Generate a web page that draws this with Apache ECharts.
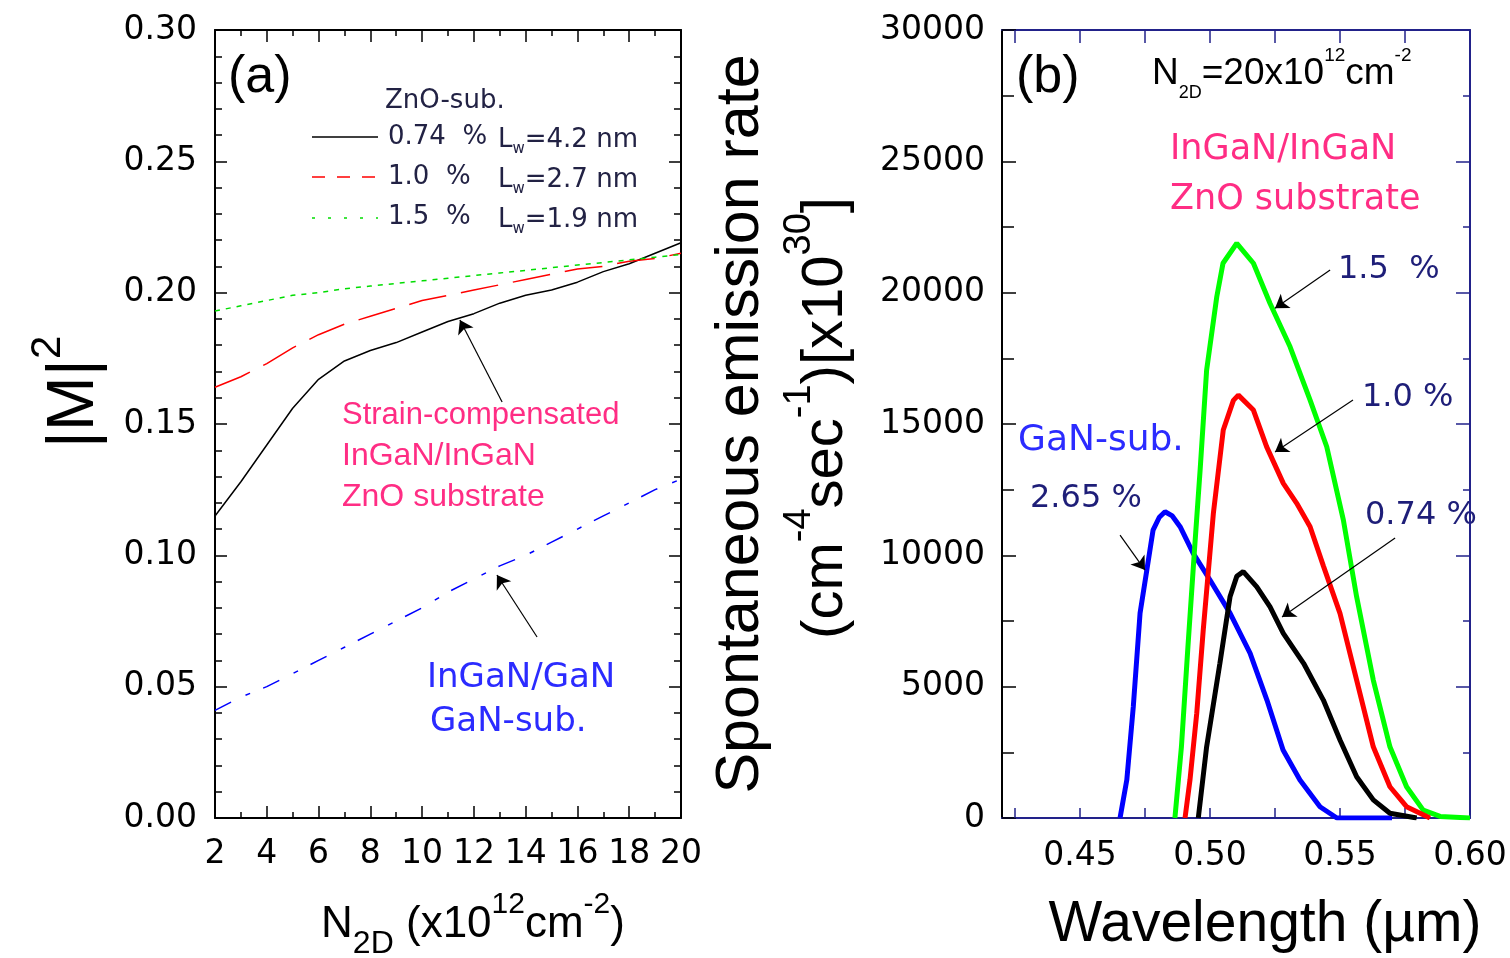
<!DOCTYPE html>
<html><head><meta charset="utf-8">
<script src="https://cdn.jsdelivr.net/npm/echarts@6/dist/echarts.min.js"></script>
<style>html,body{margin:0;padding:0;background:#fff}#c{width:1510px;height:958px}</style>
</head><body><div id="c"></div><script>
// ---------- (a) |M|^2 vs N2D ----------
const N2D = [2,3,4,5,6,7,8,9,10,11,12,13,14,15,16,17,18,19,20];
const M2_074 = [0.115,0.128,0.142,0.156,0.167,0.174,0.178,0.181,0.185,0.189,0.192,0.196,0.199,0.201,0.204,0.208,0.211,0.215,0.219];
const M2_100 = [0.164,0.168,0.173,0.179,0.184,0.188,0.191,0.194,0.197,0.199,0.201,0.203,0.205,0.207,0.209,0.210,0.212,0.213,0.215];
const M2_150 = [0.193,0.195,0.197,0.199,0.200,0.2015,0.2025,0.2035,0.2045,0.2055,0.2065,0.2075,0.2085,0.2095,0.2105,0.2115,0.2125,0.2135,0.2145];
const M2_GaN = [0.041,0.046,0.050,0.055,0.060,0.065,0.070,0.075,0.080,0.086,0.091,0.096,0.100,0.105,0.110,0.115,0.120,0.125,0.129];

// ---------- (b) spontaneous emission vs wavelength ----------
const wl_265 = [0.4654,0.468,0.4705,0.4731,0.4757,0.4781,0.4805,0.4827,0.4855,0.4885,0.4935,0.500,0.5077,0.5154,0.5219,0.5281,0.5346,0.5423,0.5488,0.570];
const rate_265 = [0,1450,4240,7800,9440,10960,11450,11660,11500,11090,10085,9060,7800,6280,4490,2590,1450,430,0,0];
const wl_150 = [0.4865,0.4890,0.4915,0.4941,0.4962,0.4987,0.5026,0.5050,0.5103,0.5167,0.5231,0.5308,0.5385,0.5449,0.5513,0.5564,0.5628,0.5692,0.5756,0.582,0.5885,0.60];
const rate_150 = [0,2700,6500,10300,13250,17050,19840,21120,21880,21120,19590,17940,15910,14135,11340,8420,5250,2710,1190,300,60,0];
const wl_100 = [0.4904,0.4923,0.4949,0.4974,0.5013,0.5051,0.5090,0.5109,0.5167,0.5218,0.5282,0.5333,0.5385,0.5436,0.55,0.5564,0.5628,0.5692,0.5756,0.5846];
const rate_100 = [0,1450,3990,7160,11600,14770,15900,16100,15530,14130,12740,11990,11090,9600,7790,5250,2710,1190,430,0];
const wl_074 = [0.4955,0.4987,0.5038,0.5077,0.5103,0.5128,0.518,0.5231,0.5282,0.536,0.5436,0.55,0.5564,0.5628,0.5692,0.5795];
const rate_074 = [0,2710,5890,8420,9200,9380,8800,8040,7030,5890,4490,2970,1570,690,180,0];

const wlTicks = [0.425,0.45,0.475,0.50,0.525,0.55,0.575,0.60];
const wlLabels = [0.45,0.50,0.55,0.60];

const zip = (a,b) => a.map((v,i)=>[v,b[i]]);
const TICKFONT = 'DejaVu Sans';
const NAVY = '#22228a';
const PINK = '#ff2d84';
const BLUE = '#2b2bff';
const DNAVY = '#1e1e78';

function axisBase(color, showLabel, tickLen, minorLen, extra) {
  return Object.assign({
    type:'value',
    axisLine:{show:true,onZero:false,lineStyle:{color:color,width:2}},
    axisTick:{show:true,inside:true,length:tickLen,lineStyle:{color:color,width:1.5}},
    minorTick:{show:minorLen>0,length:minorLen,lineStyle:{color:color,width:1.5}},
    splitLine:{show:false},
    minorSplitLine:{show:false},
    axisLabel:{show:showLabel,fontFamily:TICKFONT,fontSize:33,color:'#000'}
  }, extra);
}

const xAxes = [
  axisBase('#000', true, 12, 6, {gridIndex:0, position:'bottom', min:2, max:20, interval:2,
    minorTick:{show:true,splitNumber:2,length:6,lineStyle:{color:'#000',width:1.5}},
    axisLabel:{show:true,fontFamily:TICKFONT,fontSize:33,color:'#000',margin:20}}),
  axisBase('#000', false, 12, 6, {gridIndex:0, position:'top', min:2, max:20, interval:2,
    minorTick:{show:true,splitNumber:2,length:6,lineStyle:{color:'#000',width:1.5}}}),
  axisBase(NAVY, true, 10, 0, {gridIndex:1, position:'bottom', min:0.42, max:0.60,
    axisTick:{show:true,inside:true,length:10,customValues:wlTicks,lineStyle:{color:NAVY,width:1.5}},
    axisLabel:{show:true,customValues:wlLabels,fontFamily:TICKFONT,fontSize:33,color:'#000',margin:22,formatter:v=>v.toFixed(2)}}),
  axisBase(NAVY, false, 13, 0, {gridIndex:1, position:'top', min:0.42, max:0.60,
    axisTick:{show:true,inside:true,length:13,customValues:wlTicks,lineStyle:{color:NAVY,width:1.5}}})
];
const yAxes = [
  axisBase('#000', true, 12, 7, {gridIndex:0, position:'left', min:0, max:0.3, interval:0.05,
    minorTick:{show:true,splitNumber:5,length:7,lineStyle:{color:'#000',width:1.5}},
    axisLabel:{show:true,fontFamily:TICKFONT,fontSize:33,color:'#000',margin:18,formatter:v=>v.toFixed(2)}}),
  axisBase('#000', false, 12, 7, {gridIndex:0, position:'right', min:0, max:0.3, interval:0.05,
    minorTick:{show:true,splitNumber:5,length:7,lineStyle:{color:'#000',width:1.5}}}),
  axisBase('#000', true, 14, 12, {gridIndex:1, position:'left', min:0, max:30000, interval:5000,
    minorTick:{show:true,splitNumber:2,length:12,lineStyle:{color:'#000',width:1.5}},
    axisLabel:{show:true,fontFamily:TICKFONT,fontSize:33,color:'#000',margin:17,formatter:v=>String(Math.round(v))}}),
  axisBase(NAVY, false, 14, 7, {gridIndex:1, position:'right', min:0, max:30000, interval:5000,
    minorTick:{show:true,splitNumber:2,length:7,lineStyle:{color:NAVY,width:1.5}}})
];

const arrowStyle = {color:'#000',width:1.2,type:'solid'};
function mk(pairs){
  return {silent:true,symbol:['none','arrow'],symbolSize:13,label:{show:false},lineStyle:arrowStyle,
    animation:false,data:pairs.map(p=>[{coord:p[0]},{coord:p[1]}])};
}

const series = [
  {type:'line',name:'0.74 %',xAxisIndex:0,yAxisIndex:0,data:zip(N2D,M2_074),showSymbol:false,
   lineStyle:{color:'#000',width:1.5},
   markLine:mk([[[13.09,0.1584],[11.46,0.1896]],[[14.44,0.0689],[12.89,0.0925]]])},
  {type:'line',name:'1.0 %',xAxisIndex:0,yAxisIndex:0,data:zip(N2D,M2_100),showSymbol:false,
   lineStyle:{color:'#ff0000',width:1.5,type:[38,15]}},
  {type:'line',name:'1.5 %',xAxisIndex:0,yAxisIndex:0,data:zip(N2D,M2_150),showSymbol:false,
   lineStyle:{color:'#00dd00',width:1.5,type:[5,6]}},
  {type:'line',name:'GaN-sub.',xAxisIndex:0,yAxisIndex:0,data:zip(N2D,M2_GaN),showSymbol:false,
   lineStyle:{color:'#0000ff',width:1.5,type:[18,16,5,14]}},
  {type:'line',name:'2.65 %',xAxisIndex:2,yAxisIndex:2,data:zip(wl_265,rate_265),showSymbol:false,
   lineStyle:{color:'#0000ff',width:5}},
  {type:'line',name:'1.5 % b',xAxisIndex:2,yAxisIndex:2,data:zip(wl_150,rate_150),showSymbol:false,
   lineStyle:{color:'#00ff00',width:5},
   markLine:mk([[[0.5462,20860],[0.525,19410]],[[0.555,15912],[0.525,13932]],
                [[0.5712,10658],[0.5277,7651]],[[0.4654,10773],[0.475,9440]]])},
  {type:'line',name:'1.0 % b',xAxisIndex:2,yAxisIndex:2,data:zip(wl_100,rate_100),showSymbol:false,
   lineStyle:{color:'#ff0000',width:5}},
  {type:'line',name:'0.74 % b',xAxisIndex:2,yAxisIndex:2,data:zip(wl_074,rate_074),showSymbol:false,
   lineStyle:{color:'#000',width:5}}
];

function T(x,y,text,size,fill,family,extra){
  return Object.assign({type:'text',x:x,y:y,silent:true,style:{text:text,fontSize:size,fontFamily:family||'Liberation Sans',
    fill:fill||'#000',align:'left',verticalAlign:'middle'}}, extra||{});
}
function R(x,y,text,rich,rot,align){
  return {type:'text',x:x,y:y,rotation:rot||0,silent:true,style:{text:text,rich:rich,align:align||'center',verticalAlign:'middle',fill:'#000'}};
}
const LS = 'Liberation Sans';
const legSub = {t:{fontSize:26,fontFamily:TICKFONT,fill:'#222244',lineHeight:34,verticalAlign:'middle'},
                s:{fontSize:15,fontFamily:TICKFONT,fill:'#222244',lineHeight:30,verticalAlign:'bottom'}};

const graphic = [
  T(228,78,'(a)',52,'#000',LS),
  T(385,101,'ZnO-sub.',26,'#222244',TICKFONT),
  {type:'line',silent:true,shape:{x1:312,y1:137,x2:378,y2:137},style:{stroke:'#000',lineWidth:1.5}},
  {type:'line',silent:true,shape:{x1:312,y1:177,x2:378,y2:177},style:{stroke:'#ff0000',lineWidth:1.5,lineDash:[13,12]}},
  {type:'line',silent:true,shape:{x1:312,y1:218,x2:378,y2:218},style:{stroke:'#00dd00',lineWidth:1.5,lineDash:[3,13]}},
  T(388,137,'0.74  %',26,'#222244',TICKFONT),
  T(388,177,'1.0  %',26,'#222244',TICKFONT),
  T(388,217,'1.5  %',26,'#222244',TICKFONT),
  R(498,140,'{t|L}{s|w}{t|=4.2 nm}',legSub,0,'left'),
  R(498,180,'{t|L}{s|w}{t|=2.7 nm}',legSub,0,'left'),
  R(498,220,'{t|L}{s|w}{t|=1.9 nm}',legSub,0,'left'),
  T(342,415,'Strain-compensated',31,PINK,LS),
  T(342,456,'InGaN/InGaN',32,PINK,LS),
  T(342,497,'ZnO substrate',32,PINK,LS),
  T(427,678,'InGaN/GaN',34,BLUE,TICKFONT),
  T(430,722,'GaN-sub.',34,BLUE,TICKFONT),
  // (b)
  T(1016,78,'(b)',52,'#000',LS),
  R(1152,74,'{m|N}{b|2D}{m|=20x10}{p|12}{m|cm}{p|-2}',
    {m:{fontSize:37,fontFamily:LS,lineHeight:56,verticalAlign:'middle'},
     b:{fontSize:18,fontFamily:LS,lineHeight:18,verticalAlign:'bottom'},
     p:{fontSize:19,fontFamily:LS,lineHeight:19,verticalAlign:'top'}},0,'left'),
  T(1170,150,'InGaN/InGaN',35,PINK,TICKFONT),
  T(1170,200,'ZnO substrate',35,PINK,TICKFONT),
  T(1338,270,'1.5  %',32,DNAVY,TICKFONT),
  T(1362,398,'1.0 %',32,DNAVY,TICKFONT),
  T(1365,516,'0.74 %',32,DNAVY,TICKFONT),
  T(1018,441,'GaN-sub.',36,BLUE,TICKFONT),
  T(1030,499,'2.65 %',32,DNAVY,TICKFONT),
  // axis names
  R(75,392,'{m||M|}{p|2}',{m:{fontSize:66,fontFamily:LS,lineHeight:96,verticalAlign:'middle'},
     p:{fontSize:42,fontFamily:LS,lineHeight:42,verticalAlign:'top'}},Math.PI/2),
  R(473,925,'{m|N}{b|2D}{m| (x10}{p|12}{m|cm}{p|-2}{m|)}',
    {m:{fontSize:44,fontFamily:LS,lineHeight:70,verticalAlign:'middle'},
     b:{fontSize:32,fontFamily:LS,lineHeight:32,verticalAlign:'bottom'},
     p:{fontSize:30,fontFamily:LS,lineHeight:30,verticalAlign:'top'}}),
  R(741,424,'{m|Spontaneous emission rate}',{m:{fontSize:61,fontFamily:LS,lineHeight:70}},Math.PI/2),
  R(826,418,'{m|(cm}{p|-4}{m|sec}{p|-1}{m|)[x10}{p|30}{m|]}',
    {m:{fontSize:58,fontFamily:LS,lineHeight:90,verticalAlign:'middle'},
     p:{fontSize:38,fontFamily:LS,lineHeight:38,verticalAlign:'top'}},Math.PI/2),
  R(1265,925,'{m|Wavelength (\u00b5m)}',{m:{fontSize:57,fontFamily:LS,lineHeight:70}})
];

const chart = echarts.init(document.getElementById('c'));
chart.setOption({
  animation:false,
  backgroundColor:'#fff',
  grid:[{left:215,top:30,width:466,height:788},{left:1002,top:30,width:468,height:788}],
  xAxis:xAxes, yAxis:yAxes, series:series, graphic:graphic
});
</script></body></html>
